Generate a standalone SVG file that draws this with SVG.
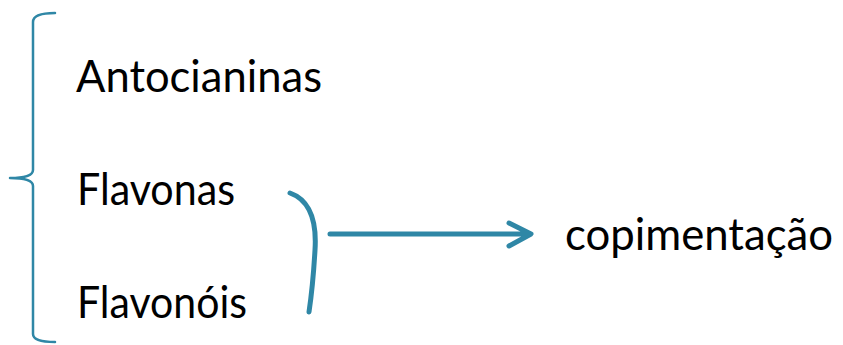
<svg xmlns="http://www.w3.org/2000/svg" width="843" height="345" viewBox="0 0 843 345">
<style>
.t{font-family:"Gill Sans","Lato","Liberation Sans",sans-serif;font-size:44px;fill:#000}
.s{fill:none;stroke:#2F87A6;stroke-linecap:round;stroke-linejoin:round}
</style>
<rect width="843" height="345" fill="#fff"/>
<g id="connectors">
<path id="brace" class="s" stroke-width="2.5" d="M55,13 Q33,13 33,22 L33,170 Q33,178 10,178 Q33,178 33,186 L33,334 Q33,342 55,342"/>
<path id="paren" class="s" stroke-width="5" d="M290,193 Q318,203 315,250 Q313,285 309,312"/>
<path id="arrow" class="s" stroke-width="5" d="M330,234 L530,234 M509,223 L531,234 L509,246"/>
</g>
<g id="n1"><text class="t" x="76" y="92" textLength="246" lengthAdjust="spacingAndGlyphs">Antocianinas</text></g>
<g id="n2"><text class="t" x="77" y="205" textLength="158" lengthAdjust="spacingAndGlyphs">Flavonas</text></g>
<g id="n3"><text class="t" x="77" y="318" textLength="170" lengthAdjust="spacingAndGlyphs">Flavonóis</text></g>
<g id="n4"><text class="t" x="565" y="250" textLength="268" lengthAdjust="spacingAndGlyphs">copimentação</text></g>
</svg>
